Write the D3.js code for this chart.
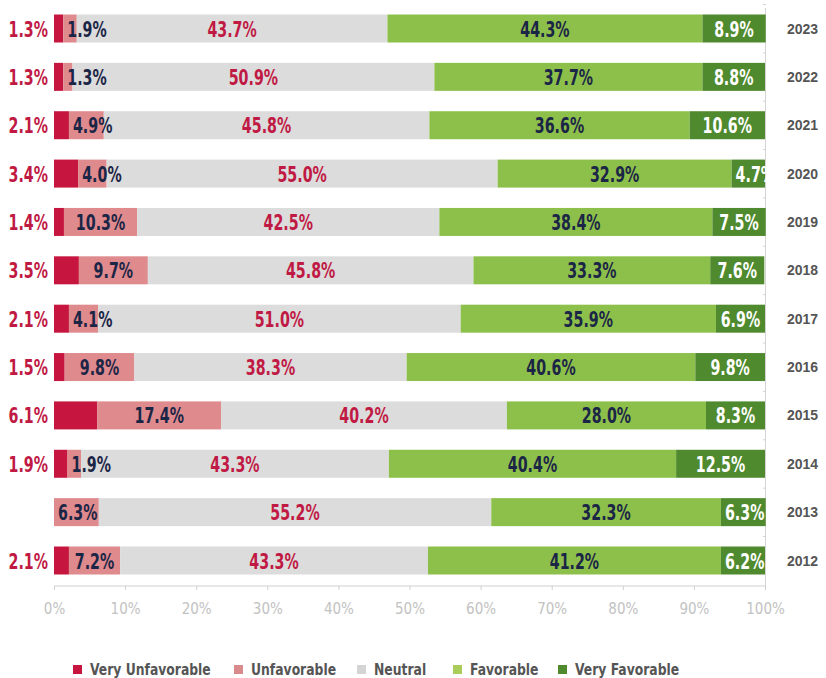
<!DOCTYPE html>
<html><head><meta charset="utf-8">
<script src="https://cdn.jsdelivr.net/npm/d3@7"></script>
<style>
html,body{margin:0;padding:0;background:#fff;}
svg{display:block;}
</style></head>
<body>
<svg id="chart" width="826" height="678"></svg>
<script>
const years = [2023,2022,2021,2020,2019,2018,2017,2016,2015,2014,2013,2012];
const veryUnfavorable = [1.3,1.3,2.1,3.4,1.4,3.5,2.1,1.5,6.1,1.9,0,2.1];
const unfavorable = [1.9,1.3,4.9,4.0,10.3,9.7,4.1,9.8,17.4,1.9,6.3,7.2];
const neutral = [43.7,50.9,45.8,55.0,42.5,45.8,51.0,38.3,40.2,43.3,55.2,43.3];
const favorable = [44.3,37.7,36.6,32.9,38.4,33.3,35.9,40.6,28.0,40.4,32.3,41.2];
const veryFavorable = [8.9,8.8,10.6,4.7,7.5,7.6,6.9,9.8,8.3,12.5,6.3,6.2];
const seriesNames = ["Very Unfavorable","Unfavorable","Neutral","Favorable","Very Favorable"];
const xTicks = [0,10,20,30,40,50,60,70,80,90,100];

const colors = ["#c6163f","#df8a8d","#dcdcdc","#8dc04b","#4f8a2e"];
const legendColors = ["#c6163f","#d98a8d","#d4d4d4","#a9cc5a","#4f8a2e"];
const labelColors = ["#c01a44","#1b2546","#c01a44","#1b2546","#ffffff"];
const labelFont = "'DejaVu Sans Condensed','DejaVu Sans',sans-serif";
const SX = 0.72;

const svg = d3.select("#chart");
const x = d3.scaleLinear().domain([0,100]).range([54,765]);
const y = d3.scalePoint().domain(years).range([28.5,560.5]);
const barH = 28;

const seriesData = [veryUnfavorable, unfavorable, neutral, favorable, veryFavorable];
const rows = years.map((yr,i)=>{
  let acc = 0;
  const segs = seriesData.map((arr,k)=>{
    const s = {k, v: arr[i], x0: acc, x1: acc+arr[i]};
    acc += arr[i];
    return s;
  });
  return {yr, segs};
});

function ctext(parent, str, size, weight, fill, sx){
  const gg = parent.append("g");
  const t = gg.append("text").text(str).attr("x",0).attr("y",0)
    .attr("font-family",labelFont).attr("font-weight",weight)
    .attr("font-size",size).attr("fill",fill);
  const w = t.node().getComputedTextLength()*sx;
  return {gg, t, w, sx};
}
function place(o, px, py, anchor){
  let left = px;
  if (anchor==="middle") left = px - o.w/2;
  else if (anchor==="end") left = px - o.w;
  o.gg.attr("transform",`translate(${left},${py}) scale(${o.sx},1)`);
}

// right axis line
svg.append("line").attr("x1",765.5).attr("x2",765.5).attr("y1",8).attr("y2",586)
  .attr("stroke","#d4d4d4").attr("stroke-width",1);
years.forEach((yr)=>{
  svg.append("line").attr("x1",763).attr("x2",766).attr("y1",y(yr)-24).attr("y2",y(yr)-24)
    .attr("stroke","#d4d4d4");
});

svg.append("defs").append("clipPath").attr("id","clipR")
  .append("rect").attr("x",0).attr("y",0).attr("width",767).attr("height",678);

const g = svg.append("g");
rows.forEach(r=>{
  const cy = y(r.yr);
  r.segs.forEach(s=>{
    if (s.v<=0) return;
    g.append("rect").attr("x",x(s.x0)).attr("y",cy-barH/2)
      .attr("width",x(s.x1)-x(s.x0)).attr("height",barH).attr("fill",colors[s.k]);
  });
});

const lg = svg.append("g").attr("clip-path","url(#clipR)");
rows.forEach(r=>{
  const cy = y(r.yr);
  r.segs.forEach(s=>{
    if (s.v<=0) return;
    const txt = s.v.toFixed(1)+"%";
    const o = ctext(lg, txt, 22, "bold", labelColors[s.k], SX);
    const by = cy + 8;
    if (s.k===0) {
      place(o, 48, by, "end");
    } else {
      const a = x(s.x0), b = x(s.x1);
      const c = (a+b)/2;
      if (o.w + 8 <= b - a) place(o, c, by, "middle");
      else place(o, a+4, by, "start");
    }
  });
  svg.append("text").text(r.yr).attr("x",787).attr("y",cy+5)
    .attr("font-family","'Liberation Sans','Arial',sans-serif").attr("font-weight","bold")
    .attr("font-size",14).attr("fill","#555");
});

// bottom axis
const axis = d3.axisBottom(x).tickValues(xTicks).tickFormat(d=>d+"%").tickSize(4).tickPadding(13);
const ax = svg.append("g").attr("transform","translate(0,586)").call(axis);
ax.select(".domain").attr("stroke","#cfcfcf").attr("d","M54.5,0H765.5");
ax.selectAll(".tick line").attr("stroke","#cfcfcf");
ax.selectAll(".tick text").attr("fill","#c2c2c2").attr("font-size",15)
  .attr("font-family","'DejaVu Sans Condensed',sans-serif").attr("font-weight",200);

// legend
const legendX = [73,234,357,453,558];
const leg = svg.append("g");
seriesNames.forEach((n,i)=>{
  leg.append("rect").attr("x",legendX[i]).attr("y",665).attr("width",9).attr("height",9).attr("fill",legendColors[i]);
  const o = ctext(leg, n, 16, "bold", "#555", 0.86);
  place(o, legendX[i]+17, 675, "start");
});
</script>
</body></html>
